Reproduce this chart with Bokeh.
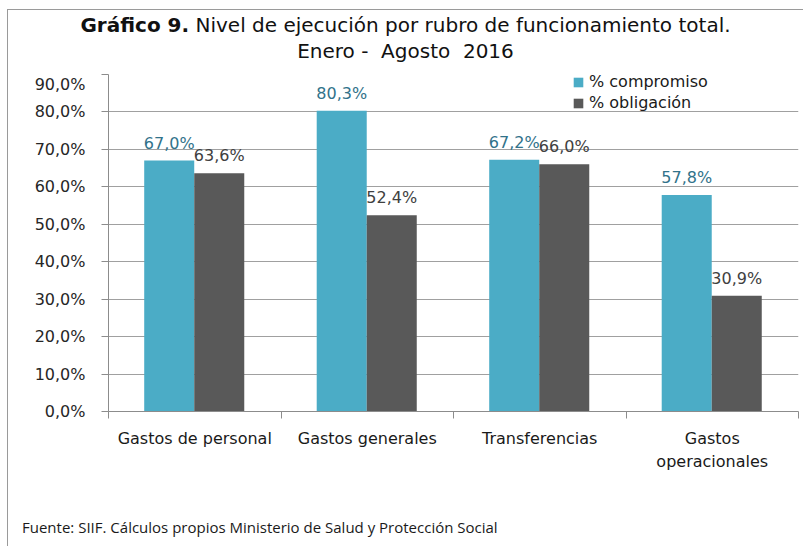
from bokeh.plotting import figure
from bokeh.models import (ColumnDataSource, FixedTicker, LabelSet, Legend, LegendItem, Range1d, Div)
from bokeh.layouts import column
from bokeh.core.properties import value
from bokeh.embed import file_html
from bokeh.resources import INLINE

categories = ["Gastos de personal", "Gastos generales", "Transferencias", "Gastos\noperacionales"]
compromiso = [67.0, 80.3, 67.2, 57.8]
obligacion = [63.6, 52.4, 66.0, 30.9]
compromiso_labels = ["67,0%", "80,3%", "67,2%", "57,8%"]
obligacion_labels = ["63,6%", "52,4%", "66,0%", "30,9%"]
y_ticks = [0, 10, 20, 30, 40, 50, 60, 70, 80, 90]
y_tick_labels = ["0,0%", "10,0%", "20,0%", "30,0%", "40,0%", "50,0%", "60,0%", "70,0%", "80,0%", "90,0%"]
title_bold = "Gráfico 9."
title_rest = "Nivel de ejecución por rubro de funcionamiento total."
subtitle = "Enero -&nbsp; Agosto&nbsp; 2016"
footer = "Fuente: SIIF. Cálculos propios Ministerio de Salud y Protección Social"

TEAL = "#4BACC6"
GRAY = "#595959"
FONT = "DejaVu Sans"
FS = "16px"

idx = list(range(len(categories)))
centers = [i + 0.5 for i in idx]
src_c = ColumnDataSource(dict(x=[c - 0.148 for c in centers], top=compromiso, lab=compromiso_labels))
src_o = ColumnDataSource(dict(x=[c + 0.142 for c in centers], top=obligacion, lab=obligacion_labels))

p = figure(width=795, height=410, output_backend="svg", toolbar_location=None,
           x_range=Range1d(0, len(categories)), y_range=Range1d(0, 90),
           min_border_left=100, min_border_right=5, min_border_top=0, min_border_bottom=73)
p.outline_line_color = None
p.background_fill_color = "white"
p.border_fill_color = "white"

rc = p.vbar(x="x", top="top", width=0.29, source=src_c, fill_color=TEAL, line_color=None)
ro = p.vbar(x="x", top="top", width=0.29, source=src_o, fill_color=GRAY, line_color=None)

p.add_layout(LabelSet(x="x", y="top", text="lab", source=src_c, text_align="center",
                      text_baseline="alphabetic", y_offset=12, text_font=value(FONT),
                      text_font_size=value(FS), text_color=value("#31728A")))
p.add_layout(LabelSet(x="x", y="top", text="lab", source=src_o, text_align="center",
                      text_baseline="alphabetic", y_offset=12, text_font=value(FONT),
                      text_font_size=value(FS), text_color=value("#404040")))

# axes
p.yaxis.ticker = FixedTicker(ticks=y_ticks)
p.yaxis.major_label_overrides = {t: l for t, l in zip(y_ticks, y_tick_labels)}
p.yaxis.major_tick_out = 7
p.yaxis.major_tick_in = 0
p.yaxis.minor_tick_line_color = None
p.yaxis.axis_line_color = "#8c8c8c"
p.yaxis.major_tick_line_color = "#8c8c8c"
p.yaxis.major_label_text_font = FONT
p.yaxis.major_label_text_font_size = FS
p.yaxis.major_label_text_color = "#262626"
p.yaxis.major_label_standoff = 16

p.xaxis.ticker = FixedTicker(ticks=centers, minor_ticks=[0] + [i + 1 for i in idx])
p.xaxis.major_label_overrides = {c: n for c, n in zip(centers, categories)}
p.xaxis.major_tick_line_color = None
p.xaxis.minor_tick_out = 7
p.xaxis.minor_tick_in = 0
p.xaxis.minor_tick_line_color = "#8c8c8c"
p.xaxis.axis_line_color = "#8c8c8c"
p.xaxis.major_label_text_font = FONT
p.xaxis.major_label_text_font_size = FS
p.xaxis.major_label_text_color = "#1a1a1a"
p.xaxis.major_label_text_line_height = 1.25
p.xaxis.major_label_standoff = 10

p.xgrid.grid_line_color = None
p.ygrid.ticker = FixedTicker(ticks=y_ticks)
p.ygrid.grid_line_color = "#a0a0a0"

# legend
legend = Legend(items=[LegendItem(label="% compromiso", renderers=[rc]),
                       LegendItem(label="% obligación", renderers=[ro])],
                location=(464, 299), orientation="vertical", padding=0, spacing=2,
                glyph_width=12, glyph_height=12, label_standoff=5, label_width=140,
                label_text_font=FONT, label_text_font_size=FS, label_text_color="#1a1a1a",
                background_fill_alpha=0, border_line_color=None, margin=0)
p.add_layout(legend)

# title (two lines, partial bold) and footer
title_div = Div(
    text=(f'<div style="padding-top:2px; width:795px; text-align:center; font-family:\'DejaVu Sans\'; '
          f'font-size:20px; line-height:26px; color:#111111; white-space:nowrap;">'
          f'<b>{title_bold}</b> {title_rest}<br>{subtitle}</div>'),
    width=795, height=64, margin=0)
footer_div = Div(
    text=(f'<div style="padding-top:34px; padding-left:14px; font-family:\'Open Sans\'; '
          f'font-size:15px; line-height:18px; color:#1a1a1a; white-space:nowrap;">{footer}</div>'),
    width=795, height=62, margin=0)

layout = column(title_div, p, footer_div, spacing=0, margin=(9, 0, 0, 7),
                styles={"border-left": "1px solid #9a9a9a", "border-top": "1px solid #9a9a9a"})

open("out.html", "w").write(file_html(layout, INLINE))
